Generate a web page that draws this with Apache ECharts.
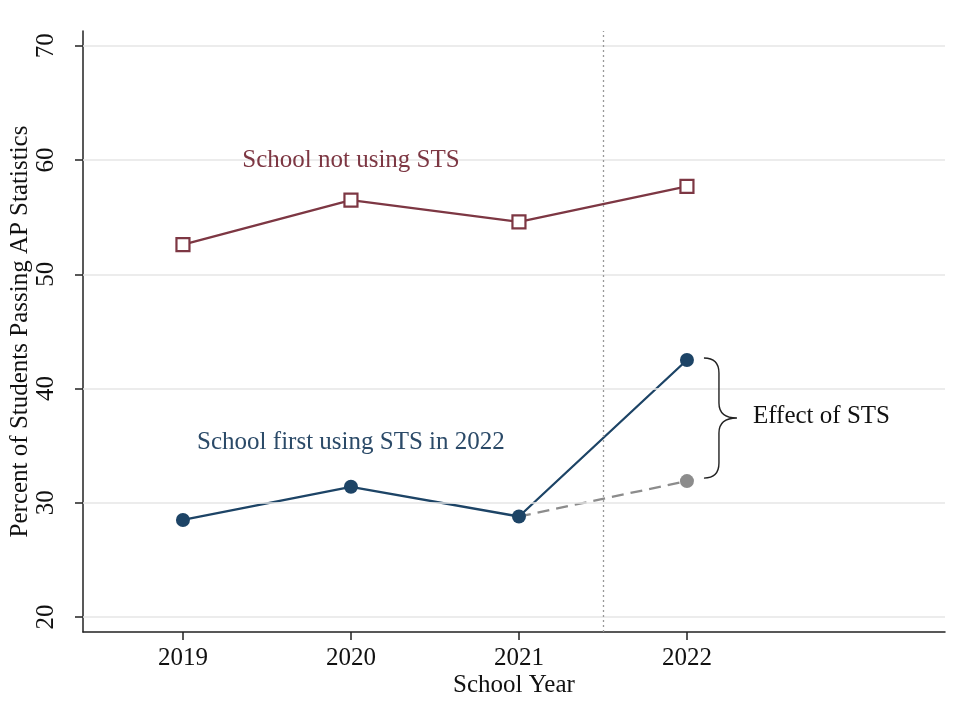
<!DOCTYPE html>
<html>
<head>
<meta charset="utf-8">
<script src="https://cdn.jsdelivr.net/npm/echarts@6/dist/echarts.min.js"></script>
<style>
  html, body { margin: 0; padding: 0; background: #fff; }
  #main { width: 962px; height: 721px; }
</style>
</head>
<body>
<div id="main"></div>
<script>
// data
var years = [2019, 2020, 2021, 2022];
var notUsing = [52.6, 56.5, 54.6, 57.7];      // School not using STS
var firstUsing = [28.5, 31.4, 28.8, 42.5];    // School first using STS in 2022
var counterfactual = [28.8, 31.9];            // 2021 -> 2022 dashed
var yTicks = [20, 30, 40, 50, 60, 70];

var RED = "#7d3743";
var BLUE = "#1d4466";
var GRAY = "#8c8c8c";
var FONT = "'Liberation Serif', 'Times New Roman', serif";
var FS = 25;

function zip(xs, ys) {
  return xs.map(function (x, i) { return [x, ys[i]]; });
}

var chart = echarts.init(document.getElementById("main"));

var option = {
  animation: false,
  backgroundColor: "#fff",
  grid: { left: 83, right: 17, top: 31, bottom: 89, outerBoundsMode: "none", containLabel: false },
  xAxis: {
    type: "value",
    min: 2018.405,
    max: 2023.536,
    name: "School Year",
    nameLocation: "middle",
    nameGap: 41,
    nameMoveOverlap: false,
    nameTextStyle: { fontFamily: FONT, fontSize: FS, color: "#111" },
    axisLine: { show: true, lineStyle: { color: "#222", width: 1.5 } },
    axisTick: { show: true, length: 8, customValues: years, lineStyle: { color: "#222", width: 1.5 } },
    axisLabel: {
      customValues: years,
      margin: 14,
      fontFamily: FONT, fontSize: FS, color: "#111",
      formatter: function (v) { return String(v); }
    },
    splitLine: { show: false }
  },
  yAxis: {
    type: "value",
    min: 18.69,
    max: 71.3,
    name: "Percent of Students Passing AP Statistics",
    nameLocation: "middle",
    nameRotate: 90,
    nameGap: 50,
    nameMoveOverlap: false,
    nameTextStyle: { fontFamily: FONT, fontSize: FS, color: "#111" },
    axisLine: { show: true, lineStyle: { color: "#222", width: 1.5 } },
    axisTick: { show: true, length: 8, customValues: yTicks, lineStyle: { color: "#222", width: 1.5 } },
    axisLabel: {
      customValues: yTicks,
      rotate: 90,
      margin: 24,
      fontFamily: FONT, fontSize: FS, color: "#111",
      formatter: function (v) { return String(v); }
    },
    splitLine: { show: false }
  },
  series: [
    {
      // gridlines + vertical dotted line
      type: "line",
      data: [],
      silent: true,
      markLine: {
        silent: true,
        symbol: "none",
        label: { show: false },
        lineStyle: { color: "#e6e6e6", width: 1.5, type: "solid" },
        data: yTicks.map(function (t) { return { yAxis: t }; }).concat([
          { xAxis: 2021.5, lineStyle: { color: "#999", width: 1.3, type: [2, 3] } }
        ])
      }
    },
    {
      name: "School not using STS",
      type: "line",
      data: zip(years, notUsing),
      symbol: "rect",
      symbolSize: 13,
      itemStyle: { color: "#fff", borderColor: RED, borderWidth: 2.2 },
      lineStyle: { color: RED, width: 2.3 },
      z: 3
    },
    {
      name: "counterfactual",
      type: "line",
      data: [
        { value: [2021, counterfactual[0]], symbol: "none" },
        { value: [2022, counterfactual[1]] }
      ],
      symbol: "circle",
      symbolSize: 14,
      itemStyle: { color: GRAY },
      lineStyle: { color: GRAY, width: 2.3, type: [12, 7] },
      z: 3
    },
    {
      name: "School first using STS in 2022",
      type: "line",
      data: zip(years, firstUsing),
      symbol: "circle",
      symbolSize: 14,
      itemStyle: { color: BLUE },
      lineStyle: { color: BLUE, width: 2.3 },
      z: 4
    },
    {
      // line labels
      type: "custom",
      silent: true,
      data: [
        [2020, 60],
        [2020, 35.3]
      ],
      renderItem: function (params, api) {
        var p = api.coord([api.value(0), api.value(1)]);
        var item = params.dataIndex === 0
          ? ["School not using STS", RED]
          : ["School first using STS in 2022", "#2b4a68"];
        return {
          type: "text",
          x: p[0], y: p[1],
          style: {
            text: item[0], fill: item[1],
            font: FS + "px " + FONT,
            align: "center", verticalAlign: "middle"
          }
        };
      },
      z: 5
    },
    {
      // brace + "Effect of STS"
      type: "custom",
      silent: true,
      data: [[2022, firstUsing[3], counterfactual[1]]],
      renderItem: function (params, api) {
        var top = api.coord([api.value(0), api.value(1)]);
        var bot = api.coord([api.value(0), api.value(2)]);
        var x0 = top[0] + 17, xs = top[0] + 32, xt = top[0] + 50;
        var y0 = top[1] - 2, y1 = bot[1] - 3, ym = (y0 + y1) / 2;
        var r = 15;
        var d = "M" + x0 + " " + y0 +
          " Q" + xs + " " + y0 + " " + xs + " " + (y0 + r) +
          " L" + xs + " " + (ym - r) +
          " Q" + xs + " " + ym + " " + xt + " " + ym +
          " Q" + xs + " " + ym + " " + xs + " " + (ym + r) +
          " L" + xs + " " + (y1 - r) +
          " Q" + xs + " " + y1 + " " + x0 + " " + y1;
        return {
          type: "group",
          children: [
            {
              type: "path",
              shape: { pathData: d },
              style: { fill: "none", stroke: "#222", lineWidth: 1.4 }
            },
            {
              type: "text",
              x: xt + 16, y: ym - 2,
              style: {
                text: "Effect of STS", fill: "#111",
                font: FS + "px " + FONT,
                align: "left", verticalAlign: "middle"
              }
            }
          ]
        };
      },
      z: 5
    }
  ]
};

chart.setOption(option);
</script>
</body>
</html>
